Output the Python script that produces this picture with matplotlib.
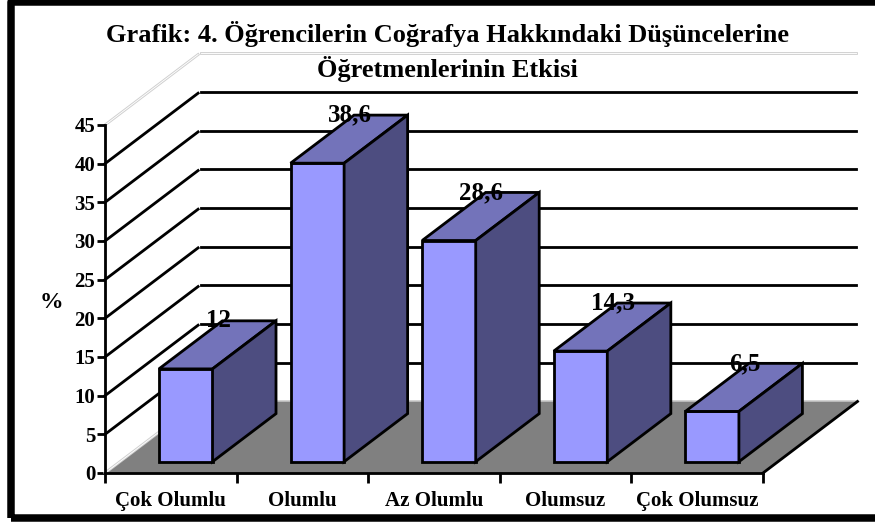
#!/usr/bin/env python
import matplotlib
matplotlib.use("Agg")
import matplotlib.pyplot as plt
from matplotlib.patches import Polygon, Rectangle

plt.rcParams['font.family'] = ['Liberation Serif', 'DejaVu Sans']
plt.rcParams['font.weight'] = 'bold'

categories = ["Çok Olumlu", "Olumlu", "Az Olumlu", "Olumsuz", "Çok Olumsuz"]
values = [12, 38.6, 28.6, 14.3, 6.5]
value_labels = ["12", "38,6", "28,6", "14,3", "6,5"]
y_ticks = [0, 5, 10, 15, 20, 25, 30, 35, 40, 45]
title = "Grafik: 4. Öğrencilerin Coğrafya Hakkındaki Düşüncelerine\nÖğretmenlerinin Etkisi"

W, H = 875, 522
PX = 0.72  # one pixel in points at dpi 100
LW = 2.8 * PX

# oblique depth of the chart box, in data units
DEPTH_X = 94.5 / 131.6
DEPTH_Y = 71.5 / 7.73
BAR_W = 0.407
D0, D1 = 0.158, 0.83


def project(x, y, d):
    return x + d * DEPTH_X, y + d * DEPTH_Y


fig = plt.figure(figsize=(W / 100, H / 100), dpi=100, facecolor='white')
ax = fig.add_axes([105 / W, (H - 473) / H, 658 / W, 348 / H])
ax.set_xlim(0, len(categories))
ax.set_ylim(0, 45)
ax.patch.set_visible(False)
for side in ['top', 'right']:
    ax.spines[side].set_visible(False)
for side in ['left', 'bottom']:
    ax.spines[side].set_linewidth(LW)
    ax.spines[side].set_zorder(6)

# floor
n = len(categories)
floor = [project(0, 0, 0), project(0, 0, 1), project(n, 0, 1), project(n, 0, 0)]
ax.add_patch(Polygon(floor, closed=True, fc='#808080', ec='none', clip_on=False, zorder=2))

# walls / gridlines
for v in y_ticks:
    x1, y1 = project(0, v, 0.985)
    x2, y2 = project(0, v, 1)
    x3, y3 = project(n - 0.01, v, 1)
    if v in (0, 45):
        for col, lw in [('#cfcfcf', 2.8), ('white', 0.9)]:
            ax.plot([0, x1], [v, y1], color=col, lw=lw * PX, clip_on=False, zorder=1 if v else 3)
            ax.plot([x2 + 0.012, x3], [y2, y3], color=col, lw=lw * PX, clip_on=False, zorder=1)
    else:
        ax.plot([0, x1], [v, y1], color='black', lw=LW, clip_on=False, zorder=1)
        ax.plot([x2 + 0.012, x3], [y2, y3], color='black', lw=LW, clip_on=False, zorder=1)

# right floor edge
xr, yr = project(n, 0, 1)
ax.plot([n, xr], [0, yr], color='black', lw=LW, clip_on=False, zorder=3)

# bars
for i, (val, lab) in enumerate(zip(values, value_labels)):
    left = i + 0.5 - BAR_W / 2
    right = i + 0.5 + BAR_W / 2
    bx, by = project(left, 0, D0)
    ax.bar(bx, val, width=BAR_W, bottom=by, align='edge', color='#9999FF', edgecolor='black',
           linewidth=LW, clip_on=False, zorder=4)
    top = [project(left, val, D0), project(left, val, D1), project(right, val, D1), project(right, val, D0)]
    side = [project(right, 0, D0), project(right, 0, D1), project(right, val, D1), project(right, val, D0)]
    ax.add_patch(Polygon(top, closed=True, fc='#7373BA', ec='black', lw=LW, clip_on=False, zorder=4))
    ax.add_patch(Polygon(side, closed=True, fc='#4D4D80', ec='black', lw=LW, clip_on=False, zorder=4))
    # label sits mid depth in x but on the back edge in y
    lx = project(i + 0.5, val, 0.5)[0]
    ly = project(i + 0.5, val, D1)[1]
    ax.text(lx, ly, lab, ha='center', va='center', fontsize=18, color='black', clip_on=False, zorder=7)

ax.set_yticks(y_ticks)
ax.set_xticks(range(n + 1))
ax.set_xticks([i + 0.5 for i in range(n)], minor=True)
ax.set_xticklabels([])
ax.set_xticklabels(categories, minor=True)
ax.tick_params(axis='y', length=6, width=LW, labelsize=15, pad=1)
ax.tick_params(axis='x', which='major', length=7, width=LW)
ax.tick_params(axis='x', which='minor', length=0, labelsize=15, pad=13)
ax.set_ylabel('%', rotation=0, fontsize=17, fontweight='bold', va='center', ha='center')
ax.yaxis.set_label_coords(-0.082, 0.491)

fig.text(447 / W, (H - 51.5) / H, title, ha='center', va='center', fontsize=19,
         fontweight='bold', linespacing=1.43)

# outer frame, open on the right
fig.add_artist(Rectangle((10.5 / W, (H - 518) / H), 900 / W, 516 / H, transform=fig.transFigure,
                         fc='none', ec='black', lw=7.5 * PX, joinstyle='round'))

fig.savefig('out.png', dpi=100)
